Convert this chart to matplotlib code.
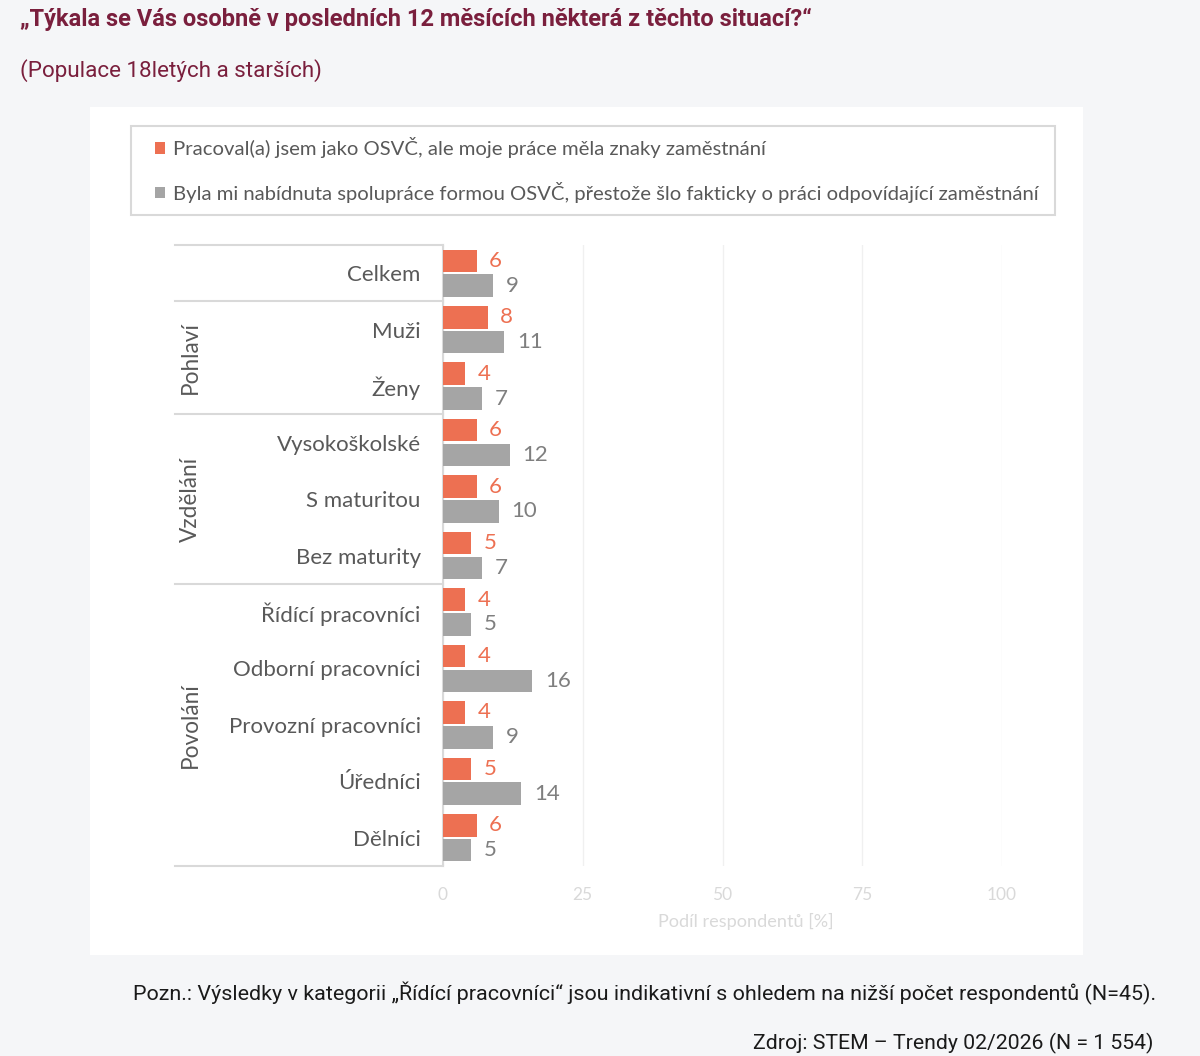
import matplotlib
matplotlib.use("Agg")
import matplotlib.pyplot as plt
from matplotlib.patches import Rectangle
from matplotlib.transforms import blended_transform_factory
import numpy as np

categories = ["Celkem", "Muži", "Ženy", "Vysokoškolské", "S maturitou", "Bez maturity",
              "Řídící pracovníci", "Odborní pracovníci", "Provozní pracovníci", "Úředníci", "Dělníci"]
series1_name = "Pracoval(a) jsem jako OSVČ, ale moje práce měla znaky zaměstnání"
series2_name = "Byla mi nabídnuta spolupráce formou OSVČ, přestože šlo fakticky o práci odpovídající zaměstnání"
series1 = [6, 8, 4, 6, 6, 5, 4, 4, 4, 5, 6]
series2 = [9, 11, 7, 12, 10, 7, 5, 16, 9, 14, 5]
groups = ["Pohlaví", "Vzdělání", "Povolání"]
group_bounds = [(1, 2), (3, 5), (6, 10)]
xticks = [0, 25, 50, 75, 100]

title = "„Týkala se Vás osobně v posledních 12 měsících některá z těchto situací?“"
subtitle = "(Populace 18letých a starších)"
note = "Pozn.: Výsledky v kategorii „Řídící pracovníci“ jsou indikativní s ohledem na nižší počet respondentů (N=45)."
source = "Zdroj: STEM – Trendy 02/2026 (N = 1 554)"

ORANGE = "#ED7052"
GRAY = "#A5A5A5"
MAROON = "#7a1f3d"
W, H = 1200, 1056

fig = plt.figure(figsize=(W / 100, H / 100), dpi=100, facecolor="#f5f6f8")

# white panel
fig.patches.append(Rectangle((90 / W, 1 - 955 / H), (1083 - 90) / W, (955 - 107) / H,
                             transform=fig.transFigure, facecolor="white", edgecolor="none", zorder=-5))
# legend frame
fig.patches.append(Rectangle((131 / W, 1 - 215 / H), (1055 - 131) / W, (215 - 126) / H,
                             transform=fig.transFigure, facecolor="white", edgecolor="#d9d9d9",
                             lw=1.5, zorder=-4))

ax = fig.add_axes([443 / W, 1 - 866 / H, (1002 - 443) / W, (866 - 245) / H])
ax.set_facecolor("none")
y = np.arange(len(categories))
h = 0.4
off = 0.22
b1 = ax.barh(y - off, series1, height=h, color=ORANGE, label=series1_name, zorder=3)
b2 = ax.barh(y + off, series2, height=h, color=GRAY, label=series2_name, zorder=3)
ax.set_xlim(0, 100)
ax.set_ylim(len(categories) - 0.5, -0.5)

for yi, v in zip(y, series1):
    ax.annotate(str(v), (v, yi - off), xytext=(9, 0), textcoords="offset points",
                ha="left", va="center", color=ORANGE, fontsize=16, family="Lato")
for yi, v in zip(y, series2):
    ax.annotate(str(v), (v, yi + off), xytext=(9, 0), textcoords="offset points",
                ha="left", va="center", color="#7f7f7f", fontsize=16, family="Lato")

ax.set_yticks(y)
ax.set_yticklabels(categories, fontsize=16, color="#595959", family="Lato")
ax.tick_params(axis="y", length=0, pad=16)
ax.set_xticks(xticks)
ax.set_xticklabels([str(t) for t in xticks], fontsize=12.5, color="#d9d9d9", family="Lato")
ax.tick_params(axis="x", length=0, pad=15)
ax.set_xlabel("Podíl respondentů [%]", fontsize=13.1, color="#d9d9d9", family="Lato")
ax.xaxis.set_label_coords((746 - 443) / (1002 - 443), -(921 - 866) / (866 - 245))
ax.xaxis.label.set_va("center")
ax.grid(axis="x", color="#f0f0f0", lw=1, zorder=0)
for s in ["top", "right", "bottom"]:
    ax.spines[s].set_visible(False)
ax.spines["left"].set_color("#d9d9d9")
ax.spines["left"].set_linewidth(1.5)

# category separators
tr = blended_transform_factory(ax.transAxes, ax.transData)
x_left = (175 - 443) / (1002 - 443)
for yb in [-0.5, 0.5, 2.5, 5.5, 10.5]:
    ax.plot([x_left, 0], [yb, yb], transform=tr, color="#d9d9d9", lw=1.5, clip_on=False)
x_grp = (190 - 443) / (1002 - 443)
for g, (a, b) in zip(groups, group_bounds):
    ax.text(x_grp, (a + b) / 2, g, transform=tr, rotation=90, ha="center", va="center",
            fontsize=16.3, color="#595959", family="Lato")

# legend (frame drawn separately above)
leg = fig.legend(handles=[b1, b2], labels=[series1_name, series2_name], loc="upper left",
                 bbox_to_anchor=(155 / W, 1 - 137 / H), borderaxespad=0, borderpad=0,
                 frameon=False, handlelength=0.5, handleheight=0.5, handletextpad=0.4,
                 labelspacing=1.16, prop={"family": "Lato", "size": 14.6}, labelcolor="#595959")

fig.text(20 / W, 1 - 19 / H, title, fontsize=17, fontweight="bold", color=MAROON,
         family="Roboto", ha="left", va="center")
fig.text(20 / W, 1 - 71 / H, subtitle, fontsize=16.1, color=MAROON, family="Roboto",
         ha="left", va="center")
fig.text(133 / W, 1 - 993 / H, note, fontsize=15.45, color="#1a1a1a", family="Roboto",
         ha="left", va="center")
fig.text(1153 / W, 1 - 1043 / H, source, fontsize=15.3, color="#1a1a1a", family="Roboto",
         ha="right", va="center")

fig.savefig("out.png", dpi=100, facecolor=fig.get_facecolor())
